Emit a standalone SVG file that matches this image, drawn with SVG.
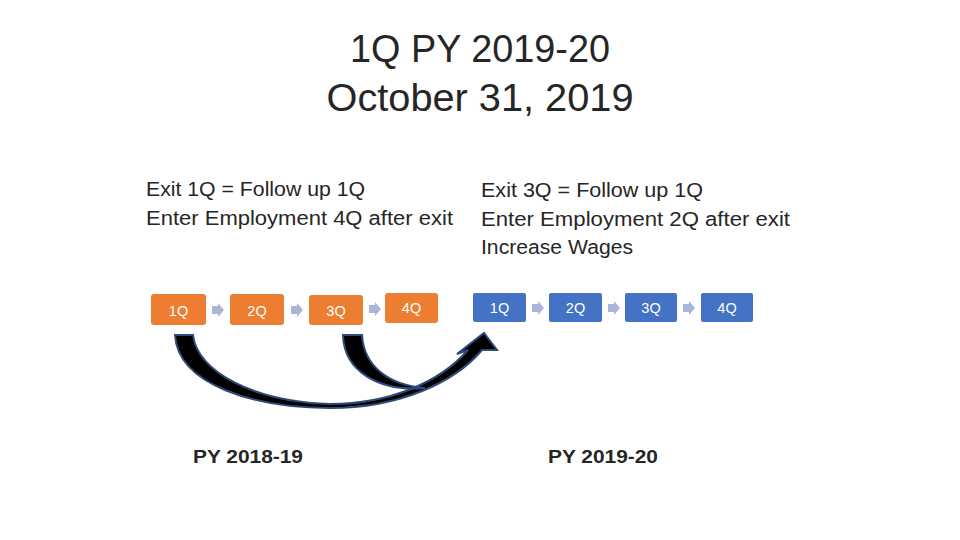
<svg xmlns="http://www.w3.org/2000/svg" width="960" height="540" viewBox="0 0 960 540">
<defs>
<style>
.t{font-family:"Liberation Sans",Arial,sans-serif;fill:#262626}
.title{font-size:38px}
.body{font-size:19.5px}
.py{font-size:19px;font-weight:bold}
.bl{font-family:"Liberation Sans",Arial,sans-serif;font-size:14.5px;fill:#fff;text-anchor:middle}
.or{fill:#ed7d31}
.bu{fill:#4472c4}
.ch{fill:#a9b6d9}
.ca{fill:#000;stroke:#2f4a78;stroke-width:2;stroke-linejoin:miter}
</style>
<path id="chev" d="M0,-4 L6,-4 L6,-7 L12,0 L6,7 L6,4 L0,4 Z"/>
</defs>
<rect width="960" height="540" fill="#fff"/>
<g id="title">
<text class="t title" x="480" y="62" text-anchor="middle" textLength="260" lengthAdjust="spacingAndGlyphs">1Q PY 2019-20</text>
<text class="t title" x="480" y="111" text-anchor="middle" textLength="307" lengthAdjust="spacingAndGlyphs">October 31, 2019</text>
</g>
<g id="left-text">
<text class="t body" x="146" y="196" textLength="219" lengthAdjust="spacingAndGlyphs">Exit 1Q = Follow up 1Q</text>
<text class="t body" x="146" y="225" textLength="307" lengthAdjust="spacingAndGlyphs">Enter Employment 4Q after exit</text>
</g>
<g id="right-text">
<text class="t body" x="481" y="197" textLength="222" lengthAdjust="spacingAndGlyphs">Exit 3Q = Follow up 1Q</text>
<text class="t body" x="481" y="226" textLength="309" lengthAdjust="spacingAndGlyphs">Enter Employment 2Q after exit</text>
<text class="t body" x="481" y="254" textLength="152" lengthAdjust="spacingAndGlyphs">Increase Wages</text>
</g>
<g id="connectors">
<use href="#chev" class="ch" x="212" y="310"/>
<use href="#chev" class="ch" x="291" y="310"/>
<use href="#chev" class="ch" x="369" y="309"/>
<use href="#chev" class="ch" x="532" y="308"/>
<use href="#chev" class="ch" x="608" y="308"/>
<use href="#chev" class="ch" x="683" y="308"/>
<path class="ca" d="M175,335 L193,335 C197,372 255,402 330,404 C390,404 440,382 468,350 L457,354 L484,333 L497,350 L482,350 C455,382 400,408 330,408 C255,408 178,385 175,335 Z"/>
<path class="ca" d="M343,335 L362,335 C364,366 388,385 425,388 C380,392 344,372 343,335 Z"/>
</g>
<g id="o1"><rect class="or" x="151" y="294" width="55" height="31" rx="3"/><text class="bl" x="178.5" y="316">1Q</text></g>
<g id="o2"><rect class="or" x="230" y="294" width="54" height="31" rx="3"/><text class="bl" x="257" y="316">2Q</text></g>
<g id="o3"><rect class="or" x="309" y="295" width="54" height="30" rx="3"/><text class="bl" x="336" y="316">3Q</text></g>
<g id="o4"><rect class="or" x="385" y="293" width="53" height="30" rx="3"/><text class="bl" x="411.5" y="313">4Q</text></g>
<g id="b1"><rect class="bu" x="473" y="293" width="53" height="29" rx="2"/><text class="bl" x="499.5" y="313">1Q</text></g>
<g id="b2"><rect class="bu" x="549" y="293" width="53" height="29" rx="2"/><text class="bl" x="575.5" y="313">2Q</text></g>
<g id="b3"><rect class="bu" x="625" y="293" width="52" height="29" rx="2"/><text class="bl" x="651" y="313">3Q</text></g>
<g id="b4"><rect class="bu" x="701" y="293" width="52" height="29" rx="2"/><text class="bl" x="727" y="313">4Q</text></g>
<g id="py1"><text class="t py" x="193" y="463" textLength="110" lengthAdjust="spacingAndGlyphs">PY 2018-19</text></g>
<g id="py2"><text class="t py" x="548" y="463" textLength="110" lengthAdjust="spacingAndGlyphs">PY 2019-20</text></g>
</svg>
